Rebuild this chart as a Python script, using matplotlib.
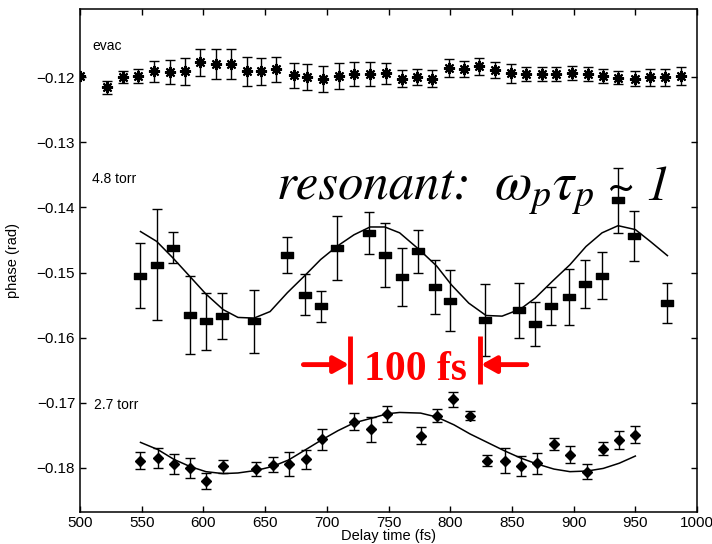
import matplotlib
matplotlib.use("Agg")
import matplotlib.pyplot as plt
from matplotlib.path import Path

plt.rcParams["font.family"] = ["Liberation Sans", "DejaVu Sans"]
plt.rcParams["mathtext.fontset"] = "stix"

# evac series
t_evac = [522, 535, 547, 560, 573, 585, 597, 610, 622, 635, 647, 659, 673, 684, 697, 710, 722, 735, 748,
          761, 773, 785, 799, 811, 823, 836, 849, 861, 874, 886, 899, 912, 924, 936, 950, 962, 974, 987]
v_evac = [-0.1215, -0.1200, -0.1198, -0.1191, -0.1192, -0.1191, -0.1177, -0.1179, -0.1179, -0.1191,
          -0.1191, -0.1188, -0.1197, -0.1199, -0.1202, -0.1198, -0.1195, -0.1195, -0.1194, -0.1202,
          -0.1200, -0.1202, -0.1186, -0.1187, -0.1183, -0.1189, -0.1194, -0.1195, -0.1195, -0.1195,
          -0.1193, -0.1195, -0.1198, -0.1201, -0.1202, -0.1200, -0.1200, -0.1198]
err_evac = [0.0010, 0.0009, 0.0010, 0.0016, 0.0018, 0.0021, 0.0021, 0.0023, 0.0023, 0.0022, 0.0021,
            0.0019, 0.0019, 0.0020, 0.0020, 0.0020, 0.0018, 0.0018, 0.0016, 0.0013, 0.0012, 0.0013,
            0.0014, 0.0012, 0.0013, 0.0012, 0.0014, 0.0011, 0.0011, 0.0011, 0.0011, 0.0011, 0.0011,
            0.0010, 0.0012, 0.0013, 0.0013, 0.0014]
t_evac_edge = [500]
v_evac_edge = [-0.1198]

# 4.8 torr series
t_mid = [549, 562, 575, 589, 602, 615, 641, 668, 682, 695, 708, 734, 747, 761, 774, 788, 800, 828,
         856, 869, 882, 896, 909, 923, 936, 949, 976]
v_mid = [-0.1505, -0.1488, -0.1462, -0.1565, -0.1575, -0.1567, -0.1575, -0.1473, -0.1534, -0.1552,
         -0.1462, -0.1439, -0.1473, -0.1507, -0.1467, -0.1522, -0.1543, -0.1573, -0.1558, -0.1579,
         -0.1551, -0.1537, -0.1517, -0.1505, -0.1389, -0.1444, -0.1547]
err_mid = [0.0050, 0.0085, 0.0024, 0.0060, 0.0044, 0.0035, 0.0048, 0.0027, 0.0032, 0.0024, 0.0049,
           0.0032, 0.0049, 0.0045, 0.0033, 0.0041, 0.0047, 0.0055, 0.0042, 0.0034, 0.0029, 0.0043,
           0.0037, 0.0036, 0.0050, 0.0038, 0.0031]
fit_mid_t = [549, 562, 575, 589, 602, 616, 628, 641, 654, 668, 682, 695, 708, 722, 735, 747, 759,
             775, 789, 801, 815, 829, 842, 857, 869, 883, 897, 910, 923, 936, 950, 962, 976]
fit_mid_v = [-0.1437, -0.1452, -0.1477, -0.1506, -0.1533, -0.1557, -0.1569, -0.1570, -0.1560, -0.1531,
             -0.1505, -0.1480, -0.1460, -0.1442, -0.1430, -0.1430, -0.1439, -0.1465, -0.1490, -0.1519,
             -0.1547, -0.1566, -0.1567, -0.1556, -0.1539, -0.1513, -0.1488, -0.1460, -0.1439, -0.1428,
             -0.1434, -0.1452, -0.1474]

# 2.7 torr series
t_low = [549, 563, 576, 589, 602, 616, 643, 656, 669, 683, 696, 722, 736, 749, 776, 789, 802, 816,
         830, 844, 857, 870, 884, 897, 911, 924, 937, 950]
v_low = [-0.1789, -0.1785, -0.1794, -0.1800, -0.1820, -0.1798, -0.1802, -0.1795, -0.1794, -0.1787,
         -0.1756, -0.1729, -0.1741, -0.1717, -0.1751, -0.1720, -0.1695, -0.1720, -0.1789, -0.1789,
         -0.1797, -0.1793, -0.1763, -0.1780, -0.1806, -0.1771, -0.1757, -0.1749]
err_low = [0.0013, 0.0015, 0.0015, 0.0015, 0.0012, 0.0010, 0.0011, 0.0012, 0.0018, 0.0015, 0.0016,
           0.0013, 0.0019, 0.0012, 0.0013, 0.0010, 0.0012, 0.0007, 0.0008, 0.0019, 0.0015, 0.0016,
           0.0009, 0.0013, 0.0012, 0.0010, 0.0014, 0.0013]
fit_low_t = [549, 563, 576, 589, 602, 616, 628, 643, 656, 669, 683, 696, 709, 722, 736, 749, 759,
             776, 789, 803, 816, 830, 844, 857, 870, 884, 897, 911, 924, 937, 950]
fit_low_v = [-0.1761, -0.1772, -0.1787, -0.1798, -0.1806, -0.1809, -0.1808, -0.1804, -0.1798, -0.1788,
             -0.1772, -0.1757, -0.1743, -0.1731, -0.1724, -0.1717, -0.1715, -0.1716, -0.1722, -0.1734,
             -0.1748, -0.1761, -0.1774, -0.1785, -0.1794, -0.1802, -0.1806, -0.1805, -0.1801, -0.1793,
             -0.1782]

x_ticks = [500, 550, 600, 650, 700, 750, 800, 850, 900, 950, 1000]
y_ticks = [-0.18, -0.17, -0.16, -0.15, -0.14, -0.13, -0.12]

fig = plt.figure(figsize=(7.12, 5.44), dpi=100)
ax = fig.add_axes([0.1124, 0.0588, 0.8666, 0.9247])

# flat rectangle marker for the 4.8 torr points
rect = Path([(-1, -0.45), (1, -0.45), (1, 0.45), (-1, 0.45), (-1, -0.45)],
            [Path.MOVETO, Path.LINETO, Path.LINETO, Path.LINETO, Path.CLOSEPOLY])

eb = dict(fmt="none", ecolor="black", elinewidth=1.0, capsize=3.8, capthick=1.0)
ax.errorbar(t_evac, v_evac, yerr=err_evac, **eb)
ax.plot(t_evac, v_evac, ls="none", marker=(8, 2, 0), ms=8, mew=1.5, color="black")
ax.plot(t_evac, v_evac, ls="none", marker="s", ms=3.5, color="black")
ax.plot(t_evac_edge, v_evac_edge, ls="none", marker=(8, 2, 0), ms=8, mew=1.5, color="black")

ax.errorbar(t_mid, v_mid, yerr=err_mid, **eb)
ax.plot(t_mid, v_mid, ls="none", marker=rect, ms=9, color="black")
ax.plot(fit_mid_t, fit_mid_v, color="black", lw=1.1)

ax.errorbar(t_low, v_low, yerr=err_low, **eb)
ax.plot(t_low, v_low, ls="none", marker="D", ms=5, color="black")
ax.plot(fit_low_t, fit_low_v, color="black", lw=1.1)

ax.set_xlim(500, 1000)
ax.set_ylim(-0.1868, -0.1095)
ax.set_xticks(x_ticks)
ax.set_yticks(y_ticks)
ax.tick_params(direction="in", length=4, width=1, top=True, right=True, labelsize=11)
ax.tick_params(axis="x", pad=3)
for s in ax.spines.values():
    s.set_linewidth(1.1)
ax.set_xlabel("Delay time (fs)", fontsize=10.5, labelpad=-1)
ax.set_ylabel("phase (rad)", fontsize=10.5, labelpad=12)

ax.text(510, -0.1152, "evac", fontsize=10, va="center")
ax.text(510, -0.1356, "4.8 torr", fontsize=10, va="center")
ax.text(511, -0.1704, "2.7 torr", fontsize=10, va="center")

# annotations
base = 1 - 200 / 544
fig.text(277 / 712, base, "resonant:", family="STIXGeneral",
         style="italic", fontsize=36.5, va="baseline", ha="left")
fig.text(494 / 712, base, r"$\omega_{p}\tau_{p}$", fontsize=39, va="baseline", ha="left")
fig.text(608 / 712, base, "~ 1", family="STIXGeneral",
         style="italic", fontsize=35, va="baseline", ha="left")
red = "#ff0000"
ax.plot([719, 719], [-0.1597, -0.1671], color=red, lw=3.5, solid_capstyle="butt")
ax.plot([824, 824], [-0.1597, -0.1671], color=red, lw=3.5, solid_capstyle="butt")
ax.annotate("", xy=(718, -0.16415), xytext=(681, -0.16415),
            arrowprops=dict(arrowstyle="-|>,head_length=0.9,head_width=0.5", color=red, lw=3.5,
                            shrinkA=0, shrinkB=0))
ax.annotate("", xy=(825, -0.16415), xytext=(862, -0.16415),
            arrowprops=dict(arrowstyle="-|>,head_length=0.9,head_width=0.5", color=red, lw=3.5,
                            shrinkA=0, shrinkB=0))
ax.text(771.5, -0.1665, "100 fs", family="Liberation Serif", weight="bold", color=red,
        fontsize=30, ha="center", va="baseline")

fig.savefig("out.png", dpi=100)
